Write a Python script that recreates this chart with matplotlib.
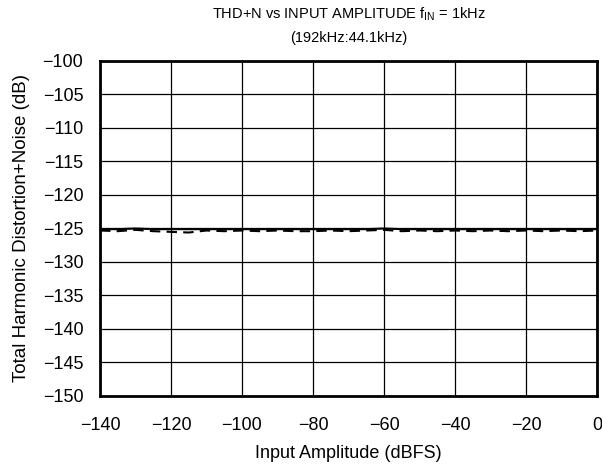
import matplotlib
matplotlib.use("Agg")
import matplotlib.pyplot as plt
import numpy as np

plt.rcParams['font.family'] = ['Liberation Sans', 'DejaVu Sans']
plt.rcParams['mathtext.fontset'] = 'custom'
plt.rcParams['mathtext.rm'] = 'Liberation Sans'
plt.rcParams['mathtext.it'] = 'Liberation Sans'

# input amplitude (dBFS)
amp = [-140, -135, -130, -125, -120, -115, -110, -105, -100, -95, -90, -85,
       -80, -75, -70, -65, -60, -55, -50, -45, -40, -35, -30, -25, -20,
       -15, -10, -5, 0]
# left channel (solid)
thdn_a = [-125.1, -125.1, -125.0, -125.1, -125.1, -125.1, -125.1, -125.1,
          -125.1, -125.1, -125.1, -125.1, -125.1, -125.1, -125.1, -125.1,
          -125.0, -125.1, -125.1, -125.1, -125.1, -125.1, -125.1, -125.1,
          -125.1, -125.1, -125.1, -125.1, -125.1]
# right channel (dashed)
thdn_b = [-125.3, -125.4, -125.2, -125.4, -125.5, -125.6, -125.3, -125.4,
          -125.3, -125.4, -125.3, -125.4, -125.4, -125.3, -125.4, -125.3,
          -125.2, -125.4, -125.3, -125.4, -125.3, -125.4, -125.3, -125.4,
          -125.3, -125.4, -125.3, -125.4, -125.3]

fig = plt.figure(figsize=(6.02, 4.69), dpi=100)
ax = fig.add_axes([100/602, 73/469, 497/602, 335/469])

ax.plot(amp, thdn_a, color='black', lw=1.5)
ax.plot(amp, thdn_b, color='black', lw=1.5, ls=(0, (5, 3)))

ax.set_xlim(-140, 0)
ax.set_ylim(-150, -100)
ax.set_xticks(np.arange(-140, 1, 20))
ax.set_yticks(np.arange(-150, -99, 5))
ax.set_xticklabels([f"\u2212{-v}" if v < 0 else str(v) for v in range(-140, 1, 20)])
ax.set_yticklabels([f"\u2212{-v}" for v in range(-150, -99, 5)])
ax.grid(True, color='black', lw=0.9)
ax.tick_params(length=0, labelsize=13)
ax.tick_params(axis='x', pad=15)
ax.tick_params(axis='y', pad=12)
for s in ax.spines.values():
    s.set_linewidth(2)

ax.set_xlabel("Input Amplitude (dBFS)", fontsize=13, labelpad=8)
ax.set_ylabel("Total Harmonic Distortion+Noise (dB)", fontsize=13.5, labelpad=9)
ax.set_title("THD+N vs INPUT AMPLITUDE f$_{\\mathrm{IN}}$ = 1kHz\n(192kHz:44.1kHz)",
             fontsize=10.5, linespacing=1.65, pad=14)

fig.savefig("out.png", dpi=100)
